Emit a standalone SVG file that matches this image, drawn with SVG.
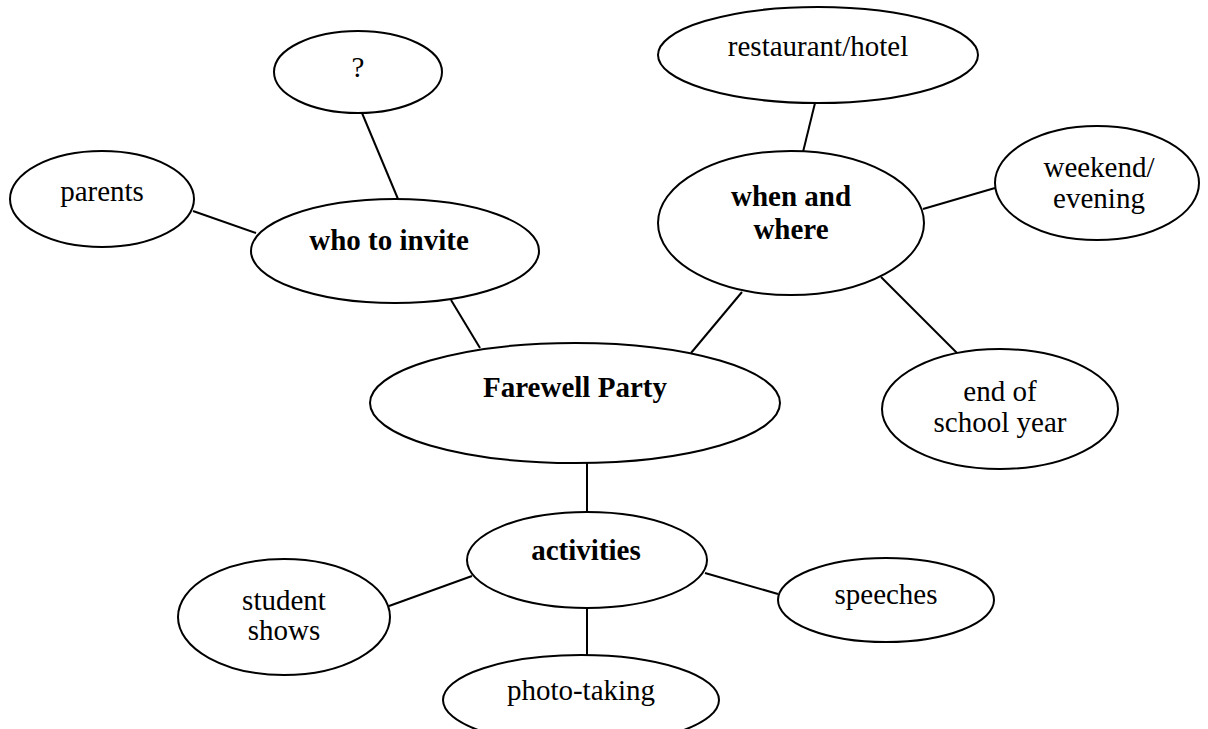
<svg xmlns="http://www.w3.org/2000/svg" width="1208" height="729" viewBox="0 0 1208 729">
<style>
ellipse{fill:#fff;stroke:#000;stroke-width:2}
line{stroke:#000;stroke-width:2}
text{font-family:"Liberation Serif","Times New Roman",serif;font-size:29px;text-anchor:middle;fill:#000}
.b{font-weight:bold}
</style>
<rect width="1208" height="729" fill="#fff"/>
<g id="connectors">
<line x1="362" y1="113" x2="398" y2="199"/>
<line x1="193" y1="211" x2="256" y2="233"/>
<line x1="451" y1="300" x2="480" y2="348"/>
<line x1="815" y1="103" x2="803" y2="152"/>
<line x1="923" y1="209" x2="995" y2="188"/>
<line x1="881" y1="277" x2="957" y2="353"/>
<line x1="742" y1="292" x2="691" y2="353"/>
<line x1="587" y1="463" x2="587" y2="512"/>
<line x1="472" y1="576" x2="389" y2="606"/>
<line x1="705" y1="573" x2="778" y2="594"/>
<line x1="587" y1="607" x2="587" y2="655"/>
</g>
<g id="q"><ellipse cx="358" cy="72" rx="84" ry="41"/><text x="358" y="77">?</text></g>
<g id="parents"><ellipse cx="102" cy="199" rx="92" ry="48"/><text x="102" y="201">parents</text></g>
<g id="who"><ellipse cx="395" cy="251" rx="144" ry="52"/><text class="b" x="389" y="250">who to invite</text></g>
<g id="restaurant"><ellipse cx="818" cy="55" rx="160" ry="48"/><text x="818" y="56">restaurant/hotel</text></g>
<g id="when"><ellipse cx="791" cy="223" rx="133" ry="72"/><text class="b" x="791" y="206">when and</text><text class="b" x="791" y="239">where</text></g>
<g id="weekend"><ellipse cx="1097" cy="183" rx="102" ry="57"/><text x="1099" y="177">weekend/</text><text x="1099" y="208">evening</text></g>
<g id="endyear"><ellipse cx="1000" cy="409" rx="118" ry="60"/><text x="1000" y="401">end of</text><text x="1000" y="432">school year</text></g>
<g id="farewell"><ellipse cx="575" cy="403" rx="205" ry="60"/><text class="b" x="575" y="397">Farewell Party</text></g>
<g id="activities"><ellipse cx="587" cy="560" rx="120" ry="48"/><text class="b" x="586" y="560">activities</text></g>
<g id="student"><ellipse cx="284" cy="617" rx="106" ry="58"/><text x="284" y="610">student</text><text x="284" y="640">shows</text></g>
<g id="speeches"><ellipse cx="886" cy="600" rx="108" ry="42"/><text x="886" y="604">speeches</text></g>
<g id="photo"><ellipse cx="581" cy="700" rx="138" ry="45"/><text x="581" y="700">photo-taking</text></g>
</svg>
